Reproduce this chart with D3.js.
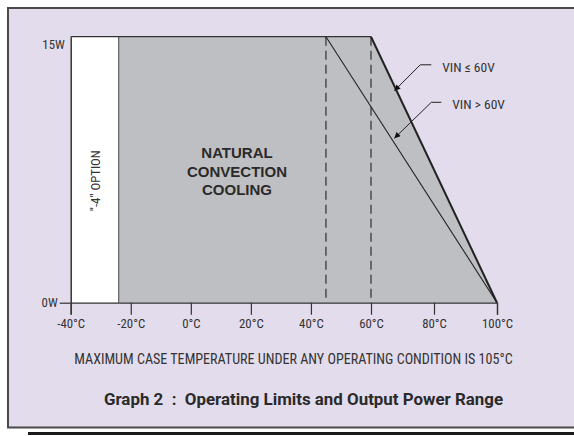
<!DOCTYPE html>
<html>
<head>
<meta charset="utf-8">
<script src="https://cdn.jsdelivr.net/npm/d3@7"></script>
<style>
  html, body { margin: 0; padding: 0; background: #ffffff; }
  svg { display: block; }
  text { white-space: pre; }
</style>
</head>
<body>
<div id="chart"></div>
<script>
// temperatures in degC, power in W
const xTicks = [-40, -20, 0, 20, 40, 60, 80, 100];
const xTickLabels = ['-40°C', '-20°C', '0°C', '20°C', '40°C', '60°C', '80°C', '100°C'];
const yTicks = [0, 15];
const yTickLabels = ['0W', '15W'];

const optionBand = [-40, -24];                       // "-4" option range
const coolingArea = [[-24, 0], [-24, 15], [60, 15], [100, 0]];
const lowVinCurve = [[-40, 15], [60, 15], [100, 0]];  // VIN <= 60V
const highVinCurve = [[45, 15], [100, 0]];            // VIN > 60V
const dashedTemps = [45, 60];

const annotations = [
  { label: 'VIN ≤ 60V', t: 67.4, p: 11.95, dx: 26, dy: -26, run: 11 },
  { label: 'VIN > 60V', t: 67.4, p: 9.27, dx: 37, dy: -36, run: 10 }
];

const COND = '"Roboto Condensed", "Liberation Sans Narrow", sans-serif';
const W = 574, H = 436;
const svg = d3.select('#chart').append('svg')
  .attr('width', W)
  .attr('height', H)
  .style('font-family', COND);

// frame
svg.append('rect')
  .attr('x', 8).attr('y', 8)
  .attr('width', 580).attr('height', 419.5)
  .attr('fill', '#e3dcec')
  .attr('stroke', '#4a4a4a')
  .attr('stroke-width', 2);

svg.append('rect')
  .attr('x', 28).attr('y', 432)
  .attr('width', 560).attr('height', 3)
  .attr('fill', '#1a1a1a');

// the print has uneven tick spacing, so use a piecewise scale
const x = d3.scaleLinear()
  .domain([-40, 60, 100])
  .range([70.7, 371, 497]);

const y = d3.scaleLinear()
  .domain([0, 15])
  .range([302.7, 36.7]);

const g = svg.append('g');

// white option band
g.append('rect')
  .attr('x', x(optionBand[0]))
  .attr('y', y(15))
  .attr('width', x(optionBand[1]) - x(optionBand[0]))
  .attr('height', y(0) - y(15))
  .attr('fill', '#ffffff');

// grey operating area
g.append('path')
  .datum(coolingArea)
  .attr('d', d3.line().x(d => x(d[0])).y(d => y(d[1])))
  .attr('fill', '#bebfc3')
  .attr('stroke', 'none');

// band boundary
g.append('line')
  .attr('x1', x(optionBand[1])).attr('x2', x(optionBand[1]))
  .attr('y1', y(0)).attr('y2', y(15))
  .attr('stroke', '#444').attr('stroke-width', 1);

// dashed verticals
g.selectAll('.dash')
  .data(dashedTemps)
  .enter()
  .append('line')
  .attr('class', 'dash')
  .attr('x1', d => x(d)).attr('x2', d => x(d))
  .attr('y1', y(15)).attr('y2', y(0))
  .attr('stroke', '#222')
  .attr('stroke-width', 1.1)
  .attr('stroke-dasharray', '9,5');

// VIN > 60V thin line
g.append('path')
  .datum(highVinCurve)
  .attr('d', d3.line().x(d => x(d[0])).y(d => y(d[1])))
  .attr('fill', 'none')
  .attr('stroke', '#222')
  .attr('stroke-width', 1.1);

// top edge (thin) and derating edge (thick)
g.append('path')
  .datum(lowVinCurve.slice(0, 2))
  .attr('d', d3.line().x(d => x(d[0])).y(d => y(d[1])))
  .attr('fill', 'none')
  .attr('stroke', '#333')
  .attr('stroke-width', 1.3);

g.append('path')
  .datum(lowVinCurve.slice(1))
  .attr('d', d3.line().x(d => x(d[0])).y(d => y(d[1])))
  .attr('fill', 'none')
  .attr('stroke', '#222')
  .attr('stroke-width', 2);

// axes
const xAxis = d3.axisBottom(x)
  .tickValues(xTicks)
  .tickFormat((d, i) => xTickLabels[i])
  .tickSize(12)
  .tickPadding(4);

const xg = svg.append('g')
  .attr('transform', `translate(0,${y(0)})`)
  .call(xAxis);
xg.select('.domain').attr('stroke', '#333').attr('stroke-width', 1.3);
xg.selectAll('.tick line').attr('stroke', '#333').attr('stroke-width', 1.2);
xg.selectAll('.tick text')
  .style('font-family', COND).style('font-size', '12.8px').style('fill', '#333');

const yAxis = d3.axisLeft(y)
  .tickValues(yTicks)
  .tickFormat((d, i) => yTickLabels[i])
  .tickSize(0)
  .tickPadding(4);

const yg = svg.append('g')
  .attr('transform', `translate(${x(-40)},0)`)
  .call(yAxis);
yg.select('.domain').attr('stroke', '#333').attr('stroke-width', 1.5);
yg.selectAll('.tick text')
  .style('font-family', COND).style('font-size', '12.8px').style('fill', '#333');
// 15W sits below its line, 0W has a tick
yg.selectAll('.tick').filter(d => d === 15).select('text')
  .attr('x', -6).attr('dy', '0.95em');
yg.selectAll('.tick').filter(d => d === 0).select('line')
  .attr('x2', -11).attr('stroke', '#333').attr('stroke-width', 1.2);
yg.selectAll('.tick').filter(d => d === 0).select('text')
  .attr('x', -13);

// labels inside the plot
svg.append('text')
  .attr('transform', `translate(${(x(optionBand[0]) + x(optionBand[1])) / 2 + 5},${(y(0) + y(15)) / 2 + 11}) rotate(-90)`)
  .attr('text-anchor', 'middle')
  .style('font-size', '12.8px')
  .style('fill', '#333')
  .text('"-4" OPTION');

const coolingText = ['NATURAL', 'CONVECTION', 'COOLING'];
svg.append('g').selectAll('text')
  .data(coolingText)
  .enter()
  .append('text')
  .attr('x', 237)
  .attr('y', (d, i) => 158.3 + i * 18.3)
  .attr('text-anchor', 'middle')
  .style('font-family', '"Liberation Sans", Arial, sans-serif')
  .style('font-size', '15px')
  .style('font-weight', 'bold')
  .style('fill', '#2a2a2a')
  .text(d => d);

// annotation leaders
svg.append('defs').append('marker')
  .attr('id', 'arrow')
  .attr('viewBox', '0 0 10 10')
  .attr('refX', 10).attr('refY', 5)
  .attr('markerWidth', 8).attr('markerHeight', 6)
  .attr('markerUnits', 'userSpaceOnUse')
  .attr('orient', 'auto')
  .append('path')
  .attr('d', 'M0,0 L10,5 L0,10 Z')
  .attr('fill', '#111');

const ann = svg.append('g').selectAll('g')
  .data(annotations)
  .enter()
  .append('g');

ann.append('path')
  .attr('d', d => {
    const tx = x(d.t), ty = y(d.p);
    return `M${tx + d.dx + d.run},${ty + d.dy} L${tx + d.dx},${ty + d.dy} L${tx},${ty}`;
  })
  .attr('fill', 'none')
  .attr('stroke', '#222')
  .attr('stroke-width', 1)
  .attr('marker-end', 'url(#arrow)');

ann.append('text')
  .attr('x', d => x(d.t) + d.dx + d.run + 11)
  .attr('y', d => y(d.p) + d.dy + 7)
  .style('font-size', '13.5px')
  .style('fill', '#333')
  .text(d => d.label);

// notes under the chart
svg.append('text')
  .attr('x', 293.5)
  .attr('y', 363.5)
  .attr('text-anchor', 'middle')
  .style('font-size', '14.1px')
  .style('fill', '#333')
  .text('MAXIMUM CASE TEMPERATURE UNDER ANY OPERATING CONDITION IS 105°C');

svg.append('text')
  .attr('x', 303.5)
  .attr('y', 404.5)
  .attr('text-anchor', 'middle')
  .style('font-family', 'Roboto, sans-serif')
  .style('font-size', '16.9px')
  .style('font-weight', 'bold')
  .style('fill', '#2a2a2a')
  .text('Graph 2  :  Operating Limits and Output Power Range');
</script>
</body>
</html>
